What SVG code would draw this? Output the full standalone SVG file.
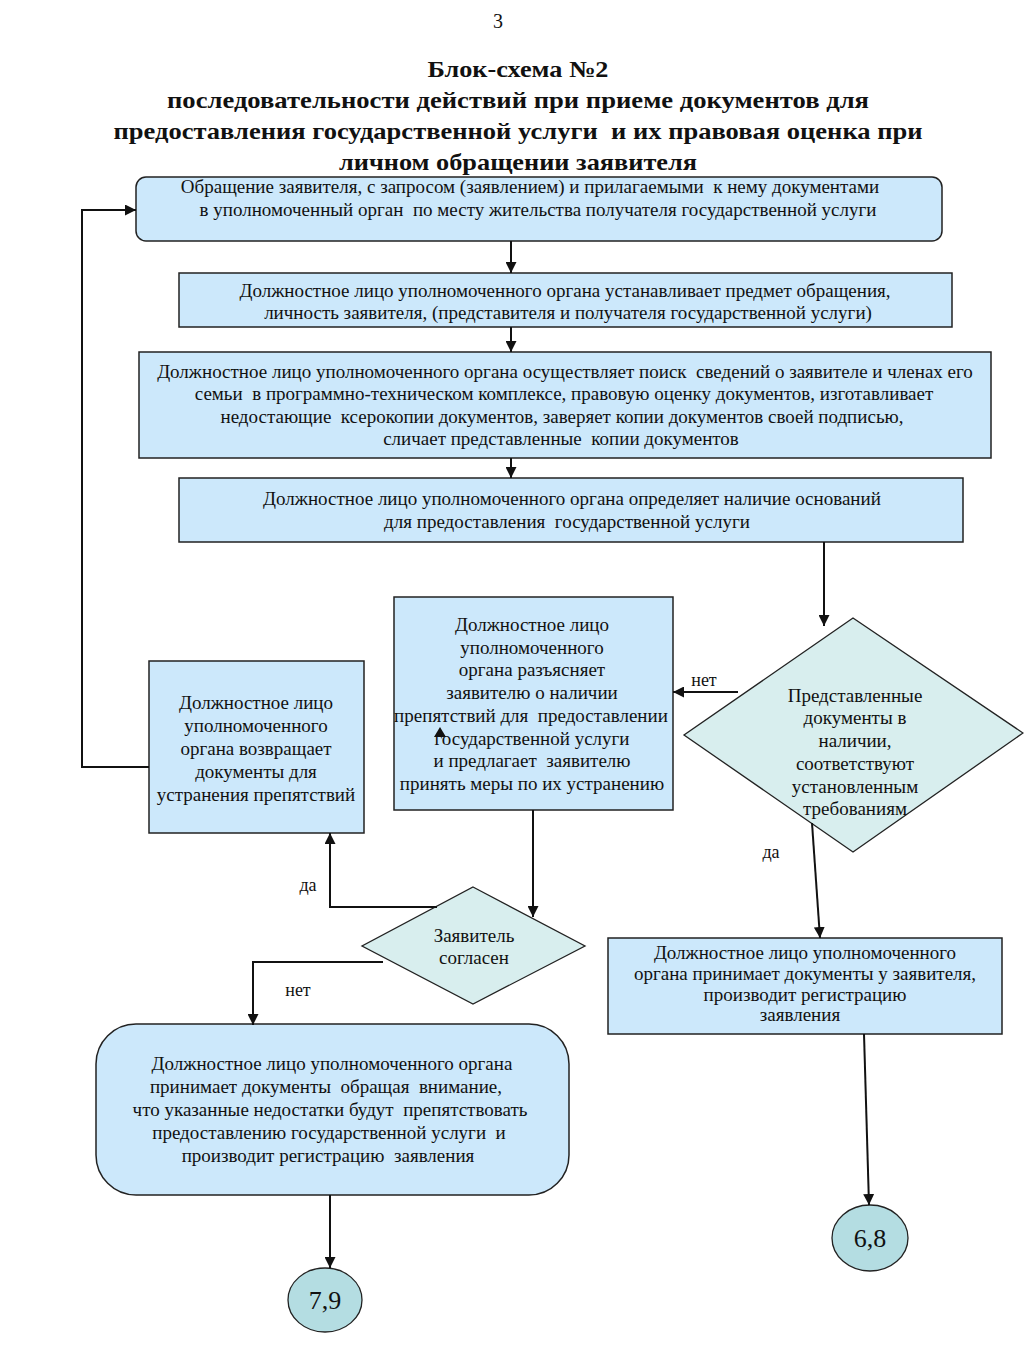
<svg xmlns="http://www.w3.org/2000/svg" width="1024" height="1365" viewBox="0 0 1024 1365">
<style>
text{font-family:"Liberation Serif","Times New Roman",serif;fill:#111}
.t{font-size:19px;text-anchor:middle;white-space:pre}
.title{font-size:23px;font-weight:bold;text-anchor:middle;white-space:pre}
.box{fill:#cce8fb;stroke:#222;stroke-width:1.5}
.dia{fill:#d8eeee;stroke:#222;stroke-width:1.3}
.circ{fill:#b4dde2;stroke:#222;stroke-width:1.3}
.ln{fill:none;stroke:#111;stroke-width:2}
.lbl{font-size:18px;text-anchor:middle}
</style>
<defs>
<marker id="ah2" viewBox="0 0 10 10" refX="10" refY="5" markerWidth="11" markerHeight="11" markerUnits="userSpaceOnUse" orient="auto"><path d="M0,0 L10,5 L0,10 z" fill="#111"/></marker>
</defs>
<rect width="1024" height="1365" fill="#fff"/>
<g id="header">
<text x="498" y="28" style="font-size:20px;text-anchor:middle">3</text>
<text class="title" x="518" y="77" textLength="181" lengthAdjust="spacingAndGlyphs">Блок-схема №2</text>
<text class="title" x="518" y="108" textLength="702" lengthAdjust="spacingAndGlyphs">последовательности действий при приеме документов для</text>
<text class="title" x="518" y="139" textLength="809" lengthAdjust="spacingAndGlyphs">предоставления государственной услуги  и их правовая оценка при</text>
<text class="title" x="518" y="170" textLength="358" lengthAdjust="spacingAndGlyphs">личном обращении заявителя</text>
</g>
<g id="n1">
<rect class="box" x="136" y="177" width="806" height="64" rx="10"/>
<text class="t" x="530" y="193">Обращение заявителя, с запросом (заявлением) и прилагаемыми  к нему документами</text>
<text class="t" x="538" y="216">в уполномоченный орган  по месту жительства получателя государственной услуги</text>
</g>
<g id="n2">
<rect class="box" x="179" y="273" width="773" height="54"/>
<text class="t" x="565" y="297">Должностное лицо уполномоченного органа устанавливает предмет обращения,</text>
<text class="t" x="568" y="319">личность заявителя, (представителя и получателя государственной услуги)</text>
</g>
<g id="n3">
<rect class="box" x="139" y="352" width="852" height="106"/>
<text class="t" x="565" y="378">Должностное лицо уполномоченного органа осуществляет поиск  сведений о заявителе и членах его</text>
<text class="t" x="564" y="400">семьи  в программно-техническом комплексе, правовую оценку документов, изготавливает</text>
<text class="t" x="562" y="423">недостающие  ксерокопии документов, заверяет копии документов своей подписью,</text>
<text class="t" x="561" y="445">сличает представленные  копии документов</text>
</g>
<g id="n4">
<rect class="box" x="179" y="478" width="784" height="64"/>
<text class="t" x="572" y="505">Должностное лицо уполномоченного органа определяет наличие оснований</text>
<text class="t" x="567" y="528">для предоставления  государственной услуги</text>
</g>
<g id="d1">
<polygon class="dia" points="853,618 1023,733 853,852 684,735"/>
<text class="t" x="855" y="702">Представленные</text>
<text class="t" x="855" y="724">документы в</text>
<text class="t" x="855" y="747">наличии,</text>
<text class="t" x="855" y="770">соответствуют</text>
<text class="t" x="855" y="793">установленным</text>
<text class="t" x="855" y="815">требованиям</text>
</g>
<g id="n5">
<rect class="box" x="394" y="597" width="279" height="213"/>
<text class="t" x="532" y="631">Должностное лицо</text>
<text class="t" x="532" y="654">уполномоченного</text>
<text class="t" x="532" y="676">органа разъясняет</text>
<text class="t" x="532" y="699">заявителю о наличии</text>
<text class="t" x="531" y="722">препятствий для  предоставлении</text>
<text class="t" x="532" y="745">государственной услуги</text>
<text class="t" x="532" y="767">и предлагает  заявителю</text>
<text class="t" x="532" y="790">принять меры по их устранению</text>
</g>
<g id="n6">
<rect class="box" x="149" y="661" width="215" height="172"/>
<text class="t" x="256" y="709">Должностное лицо</text>
<text class="t" x="256" y="732">уполномоченного</text>
<text class="t" x="256" y="755">органа возвращает</text>
<text class="t" x="256" y="778">документы для</text>
<text class="t" x="256" y="801">устранения препятствий</text>
</g>
<g id="d2">
<polygon class="dia" points="473,887 585,946 473,1004 362,946"/>
<text class="t" x="474" y="942">Заявитель</text>
<text class="t" x="474" y="964">согласен</text>
</g>
<g id="n7">
<rect class="box" x="608" y="938" width="394" height="96"/>
<text class="t" x="805" y="959">Должностное лицо уполномоченного</text>
<text class="t" x="805" y="980">органа принимает документы у заявителя,</text>
<text class="t" x="805" y="1001">производит регистрацию</text>
<text class="t" x="800" y="1021">заявления</text>
</g>
<g id="n8">
<rect class="box" x="96" y="1024" width="473" height="171" rx="40"/>
<text class="t" x="332" y="1070">Должностное лицо уполномоченного органа</text>
<text class="t" x="326" y="1093">принимает документы  обращая  внимание,</text>
<text class="t" x="330" y="1116">что указанные недостатки будут  препятствовать</text>
<text class="t" x="329" y="1139">предоставлению государственной услуги  и</text>
<text class="t" x="328" y="1162">производит регистрацию  заявления</text>
</g>
<g id="c68">
<ellipse class="circ" cx="870" cy="1238" rx="38" ry="33"/>
<text x="870" y="1247" style="font-size:26px;text-anchor:middle">6,8</text>
</g>
<g id="c79">
<ellipse class="circ" cx="325" cy="1300" rx="37" ry="32"/>
<text x="325" y="1309" style="font-size:26px;text-anchor:middle">7,9</text>
</g>
<g id="connectors">
<line class="ln" x1="511" y1="241" x2="511" y2="273" marker-end="url(#ah2)"/>
<line class="ln" x1="511" y1="327" x2="511" y2="352" marker-end="url(#ah2)"/>
<line class="ln" x1="511" y1="458" x2="511" y2="478" marker-end="url(#ah2)"/>
<line class="ln" x1="824" y1="542" x2="824" y2="626" marker-end="url(#ah2)"/>
<line class="ln" x1="738" y1="692" x2="673" y2="692" marker-end="url(#ah2)"/>
<line class="ln" x1="812" y1="823" x2="820" y2="938" marker-end="url(#ah2)"/>
<line class="ln" x1="864" y1="1034" x2="869" y2="1205" marker-end="url(#ah2)"/>
<line class="ln" x1="533" y1="810" x2="533" y2="917" marker-end="url(#ah2)"/>
<polyline class="ln" points="437,907 330,907 330,833" marker-end="url(#ah2)"/>
<polyline class="ln" points="383,962 253,962 253,1025" marker-end="url(#ah2)"/>
<line class="ln" x1="330" y1="1195" x2="330" y2="1268" marker-end="url(#ah2)"/>
<polyline class="ln" points="149,767 82,767 82,210 136,210" marker-end="url(#ah2)"/>
<polygon points="440,727 446,737 434,737" fill="#111"/>
<text class="lbl" x="704" y="686">нет</text>
<text class="lbl" x="771" y="858">да</text>
<text class="lbl" x="308" y="891">да</text>
<text class="lbl" x="298" y="996">нет</text>
</g>
</svg>
